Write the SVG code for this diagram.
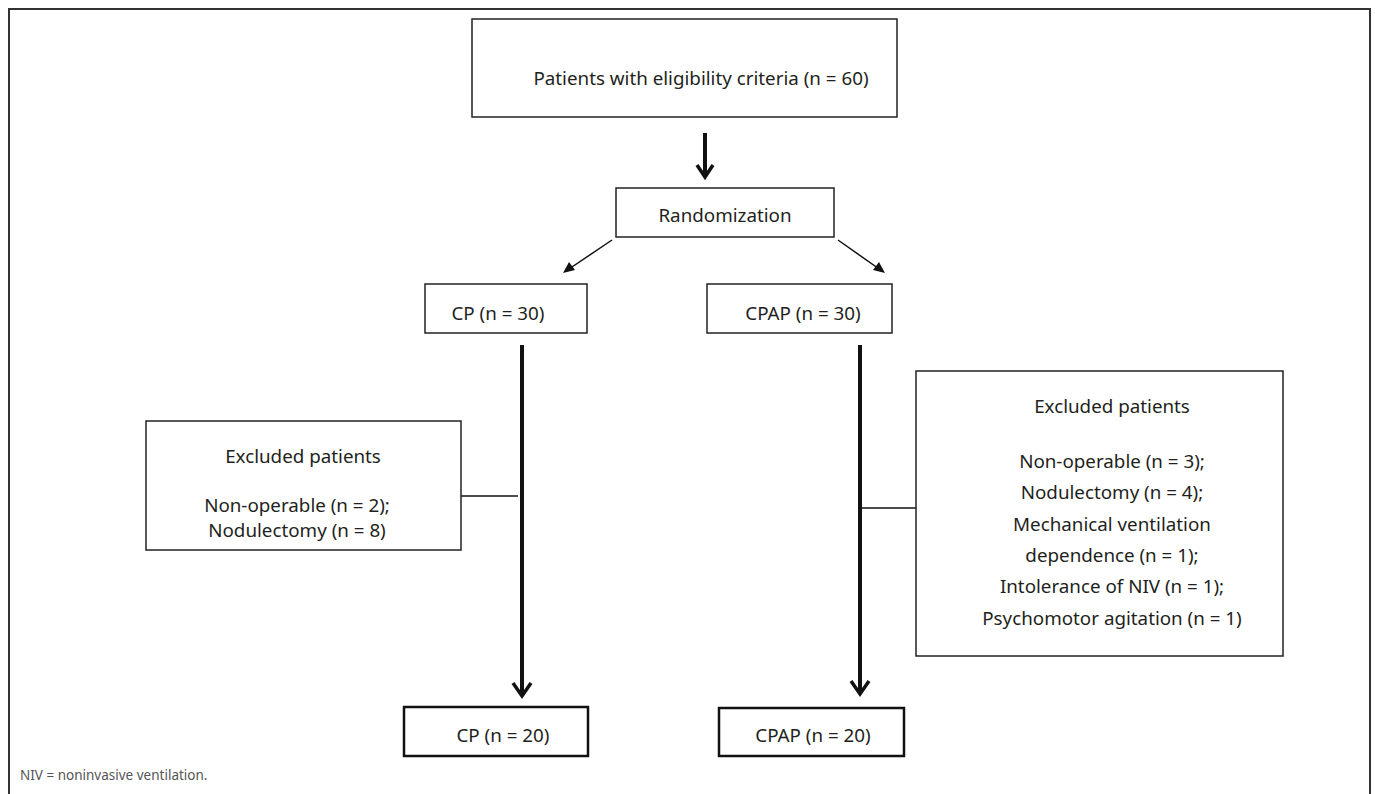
<svg xmlns="http://www.w3.org/2000/svg" width="1375" height="794" viewBox="0 0 1375 794">
<style>
  text { font-family: "Noto Sans", "Open Sans", sans-serif; fill: #231f20; font-size: 18.8px; text-anchor: middle; }
  .box { fill: #fff; stroke: #222; stroke-width: 1.5; }
  .boxb { fill: #fff; stroke: #111; stroke-width: 2.5; }
  .thick { stroke: #111; stroke-width: 4; fill: none; }
  .chev { stroke: #111; stroke-width: 3.5; fill: none; stroke-linejoin: miter; stroke-linecap: butt; }
  .thin { stroke: #111; stroke-width: 1.5; fill: none; }
  .head { fill: #111; }
  .foot { font-size: 13.5px; text-anchor: start; fill: #555; }
</style>
<rect width="1375" height="794" fill="#fff"/>
<path d="M9,800 V9 H1370 V800" fill="none" stroke="#333" stroke-width="2"/>

<g id="connectors">
  <line class="thick" x1="705" y1="133" x2="705" y2="177"/>
  <path class="chev" d="M697,165 L705,177 L713,165"/>
  <line class="thin" x1="612" y1="240" x2="566" y2="271"/>
  <path class="head" d="M563,273 L569,262 L575,270 Z"/>
  <line class="thin" x1="838" y1="240" x2="882" y2="271"/>
  <path class="head" d="M885,273 L873,270 L879,262 Z"/>
  <line class="thick" x1="522" y1="345" x2="522" y2="696"/>
  <path class="chev" d="M513,683 L522,696 L531,683"/>
  <line class="thick" x1="860" y1="345" x2="860" y2="694"/>
  <path class="chev" d="M851,681 L860,694 L869,681"/>
  <line class="thin" x1="461" y1="496" x2="518" y2="496"/>
  <line class="thin" x1="862" y1="508" x2="916" y2="508"/>
</g>

<g id="n-eligible">
  <rect class="box" x="472" y="19" width="425" height="98"/>
  <text x="701" y="85">Patients with eligibility criteria (n = 60)</text>
</g>
<g id="n-random">
  <rect class="box" x="616" y="188" width="218" height="49"/>
  <text x="725" y="222">Randomization</text>
</g>
<g id="n-cp30">
  <rect class="box" x="425" y="284" width="162" height="49"/>
  <text x="498" y="320">CP (n = 30)</text>
</g>
<g id="n-cpap30">
  <rect class="box" x="707" y="284" width="185" height="49"/>
  <text x="803" y="320">CPAP (n = 30)</text>
</g>
<g id="n-excl-left">
  <rect class="box" x="146" y="421" width="315" height="129"/>
  <text x="303" y="463">Excluded patients</text>
  <text x="297" y="512">Non-operable (n = 2);</text>
  <text x="297" y="537">Nodulectomy (n = 8)</text>
</g>
<g id="n-excl-right">
  <rect class="box" x="916" y="371" width="367" height="285"/>
  <text x="1112" y="413">Excluded patients</text>
  <text x="1112" y="468">Non-operable (n = 3);</text>
  <text x="1112" y="499">Nodulectomy (n = 4);</text>
  <text x="1112" y="531">Mechanical ventilation</text>
  <text x="1112" y="562">dependence (n = 1);</text>
  <text x="1112" y="593">Intolerance of NIV (n = 1);</text>
  <text x="1112" y="625">Psychomotor agitation (n = 1)</text>
</g>
<g id="n-cp20">
  <rect class="boxb" x="404" y="707" width="184" height="49"/>
  <text x="503" y="742">CP (n = 20)</text>
</g>
<g id="n-cpap20">
  <rect class="boxb" x="719" y="708" width="185" height="48"/>
  <text x="813" y="742">CPAP (n = 20)</text>
</g>
<text class="foot" x="20" y="780">NIV = noninvasive ventilation.</text>
</svg>
